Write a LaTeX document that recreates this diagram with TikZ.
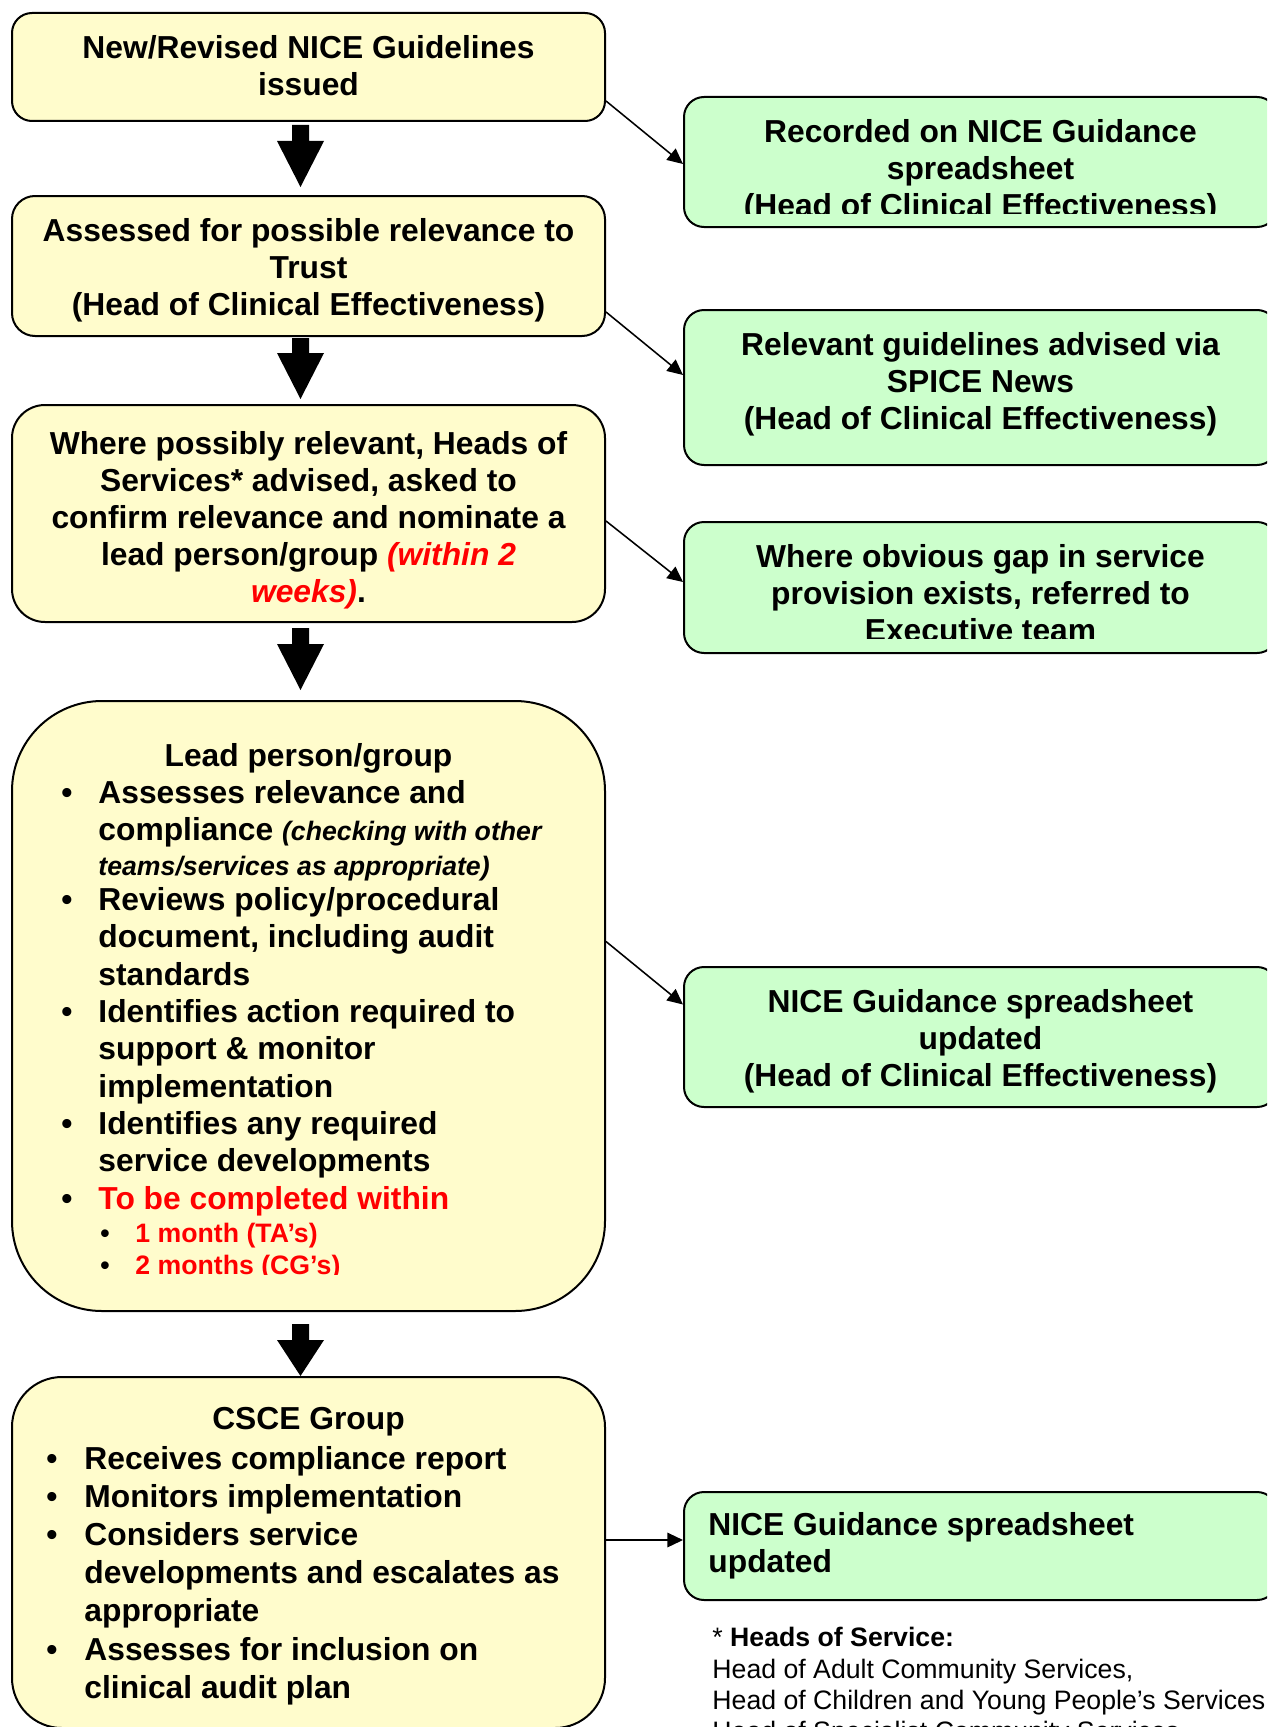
\documentclass[tikz,border=0pt]{standalone}
\usepackage{fontspec}
\setmainfont{Liberation Sans}
\usetikzlibrary{calc,arrows.meta}
\newdimen\pxu \pxu=0.45pt
\newcommand{\bigtxt}{\fontsize{14.3pt}{16.65pt}\selectfont\bfseries}
\newcommand{\smalltxt}{\fontsize{12pt}{14.1pt}\selectfont}
\newcommand{\bul}[1]{\makebox[#1\pxu][l]{\textbullet}}
\newcommand{\blockarrow}[3]{%
  \fill ($#1+(-8.5,0)$) -- ($#1+(8.5,0)$) -- ($#2+(8.5,-#3)$) -- ($#2+(23.5,-#3)$)
    -- #2 -- ($#2+(-23.5,-#3)$) -- ($#2+(-8.5,-#3)$) -- cycle;}
\begin{document}
\begin{tikzpicture}[x=0.45pt,y=-0.45pt,
    ybox/.style={draw, line width=0.9pt, fill=\BOXYELLOW, inner sep=0pt, minimum width=593\pxu},
    gbox/.style={draw, line width=0.9pt, fill=\BOXGREEN, inner sep=0pt, minimum width=593\pxu, rounded corners=20\pxu},
    txt/.style={font=\bigtxt, align=center, inner sep=0pt},
    thinarrow/.style={-{Triangle[length=7pt,width=6.5pt]}, line width=0.7pt}]

\def\BOXYELLOW{yellow!20}
\def\BOXGREEN{green!20}
\def\TEXTRED{red}
	\useasboundingbox (0,0) rectangle (1267,1727);
	\clip (0,0) rectangle (1267,1727);
	\fill[white] (0,0) rectangle (1267,1727);

	% left column
	\node[ybox, rounded corners=20\pxu, minimum height=108\pxu] (y1) at (308.5,67) {};
	\node[ybox, rounded corners=23\pxu, minimum height=140\pxu] (y2) at (308.5,266) {};
	\node[ybox, rounded corners=33\pxu, minimum height=217\pxu] (y3) at (308.5,513.5) {};
	\node[ybox, rounded corners=90\pxu, minimum height=610\pxu] (y4) at (308.5,1006) {};
	\node[ybox, rounded corners=50\pxu, minimum height=351\pxu] (y5) at (308.5,1552.5) {};

	\node[txt] (y1txt) at (308.5,65.5) {New/Revised NICE Guidelines\\issued};
	\node[txt] (y2txt) at (308.5,270.5) {Assessed for possible relevance to\\Trust\\(Head of Clinical Effectiveness)};
	\node[txt] (y3txt) at (308.5,520.5) {Where possibly relevant, Heads of\\Services* advised, asked to\\confirm relevance and nominate a\\lead person/group \textcolor{\TEXTRED}{\itshape (within 2}\\\textcolor{\TEXTRED}{\itshape weeks)}.};

	\node[txt] (y4head) at (308.5,758) {Lead person/group};
	\begin{scope}
	\clip (y4.north west) rectangle ($(y4.south east)+(0,-38)$);
	\node[txt, align=left, anchor=west, font=\fontsize{14.3pt}{16.8pt}\selectfont\bfseries] (y4list) at (61,1030.5) {\bul{37}Assesses relevance and\\
	\hspace*{37\pxu}compliance {\smalltxt\itshape (checking with other}\\[-3\pxu]
	\hspace*{37\pxu}{\smalltxt\itshape teams/services as appropriate)}\\[-2\pxu]
	\bul{37}Reviews policy/procedural\\
	\hspace*{37\pxu}document, including audit\\
	\hspace*{37\pxu}standards\\
	\bul{37}Identifies action required to\\
	\hspace*{37\pxu}support \& monitor\\
	\hspace*{37\pxu}implementation\\
	\bul{37}Identifies any required\\
	\hspace*{37\pxu}service developments\\
	\bul{37}\textcolor{\TEXTRED}{To be completed within}\\[-4\pxu]
	{\smalltxt\hspace*{39\pxu}\bul{35}\textcolor{\TEXTRED}{1 month (TA’s)}}\\[-5\pxu]
	{\smalltxt\hspace*{39\pxu}\bul{35}\textcolor{\TEXTRED}{2 months (CG’s)}}};
	\end{scope}

	\node[txt] (y5head) at (308.5,1422) {CSCE Group};
	\node[txt, align=left, anchor=west, font=\fontsize{14.3pt}{17.2pt}\selectfont\bfseries] (y5list) at (46,1575.5) {\bul{38}Receives compliance report\\
	\bul{38}Monitors implementation\\
	\bul{38}Considers service\\
	\hspace*{38\pxu}developments and escalates as\\
	\hspace*{38\pxu}appropriate\\
	\bul{38}Assesses for inclusion on\\
	\hspace*{38\pxu}clinical audit plan};

	% right column
	\node[gbox, minimum height=130\pxu] (g1) at (980.5,162) {};
	\node[gbox, minimum height=155\pxu] (g2) at (980.5,387.5) {};
	\node[gbox, minimum height=131\pxu] (g3) at (980.5,587.5) {};
	\node[gbox, minimum height=140\pxu] (g4) at (980.5,1037) {};
	\node[gbox, minimum height=108\pxu] (g5) at (980.5,1546) {};

	\begin{scope}
	\clip (g1.north west) rectangle ($(g1.south east)+(0,-15)$);
	\node[txt] (g1txt) at (980.5,171) {Recorded on NICE Guidance\\spreadsheet\\(Head of Clinical Effectiveness)};
	\end{scope}
	\node[txt] (g2txt) at (980.5,384) {Relevant guidelines advised via\\SPICE News\\(Head of Clinical Effectiveness)};
	\begin{scope}
	\clip (g3.north west) rectangle ($(g3.south east)+(0,-16)$);
	\node[txt] (g3txt) at (980.5,593) {Where obvious gap in service\\provision exists, referred to\\Executive team};
	\end{scope}
	\node[txt] (g4txt) at (980.5,1041.5) {NICE Guidance spreadsheet\\updated\\(Head of Clinical Effectiveness)};
	\node[txt, align=left, anchor=west] (g5txt) at (708,1546) {NICE Guidance spreadsheet\\updated};

	\node[font=\smalltxt, align=left, anchor=north west, inner sep=0pt] (note) at (712,1627) {* \textbf{Heads of Service:}\\Head of Adult Community Services,\\Head of Children and Young People’s Services\\Head of Specialist Community Services};

	% thin arrows
	\draw[thinarrow] ($(y1.east)+(0,34)$) -- ($(g1.west)+(0,2)$);
	\draw[thinarrow] ($(y2.east)+(0,46)$) -- ($(g2.west)+(0,-12.5)$);
	\draw[thinarrow] ($(y3.east)+(0,7.5)$) -- ($(g3.west)+(0,-5.5)$);
	\draw[thinarrow] ($(y4.east)+(0,-64.5)$) -- ($(g4.west)+(0,-32.5)$);
	\draw[thinarrow] ($(y5.east)+(0,-12.5)$) -- ($(g5.west)+(0,-6)$);

	% block arrows
	\coordinate (b1s) at ($(y1.south)+(-8,3)$);
	\coordinate (b1e) at ($(y2.north)+(-8,-8)$);
	\coordinate (b2s) at ($(y2.south)+(-8,1)$);
	\coordinate (b2e) at ($(y3.north)+(-8,-5)$);
	\coordinate (b3s) at ($(y3.south)+(-8,5)$);
	\coordinate (b3e) at ($(y4.north)+(-8,-10)$);
	\coordinate (b4s) at ($(y4.south)+(-8,12)$);
	\coordinate (b4e) at ($(y5.north)+(-8,0)$);
	\blockarrow{(b1s)}{(b1e)}{46}
	\blockarrow{(b2s)}{(b2e)}{46}
	\blockarrow{(b3s)}{(b3e)}{46}
	\blockarrow{(b4s)}{(b4e)}{36}

\end{tikzpicture}
\end{document}
